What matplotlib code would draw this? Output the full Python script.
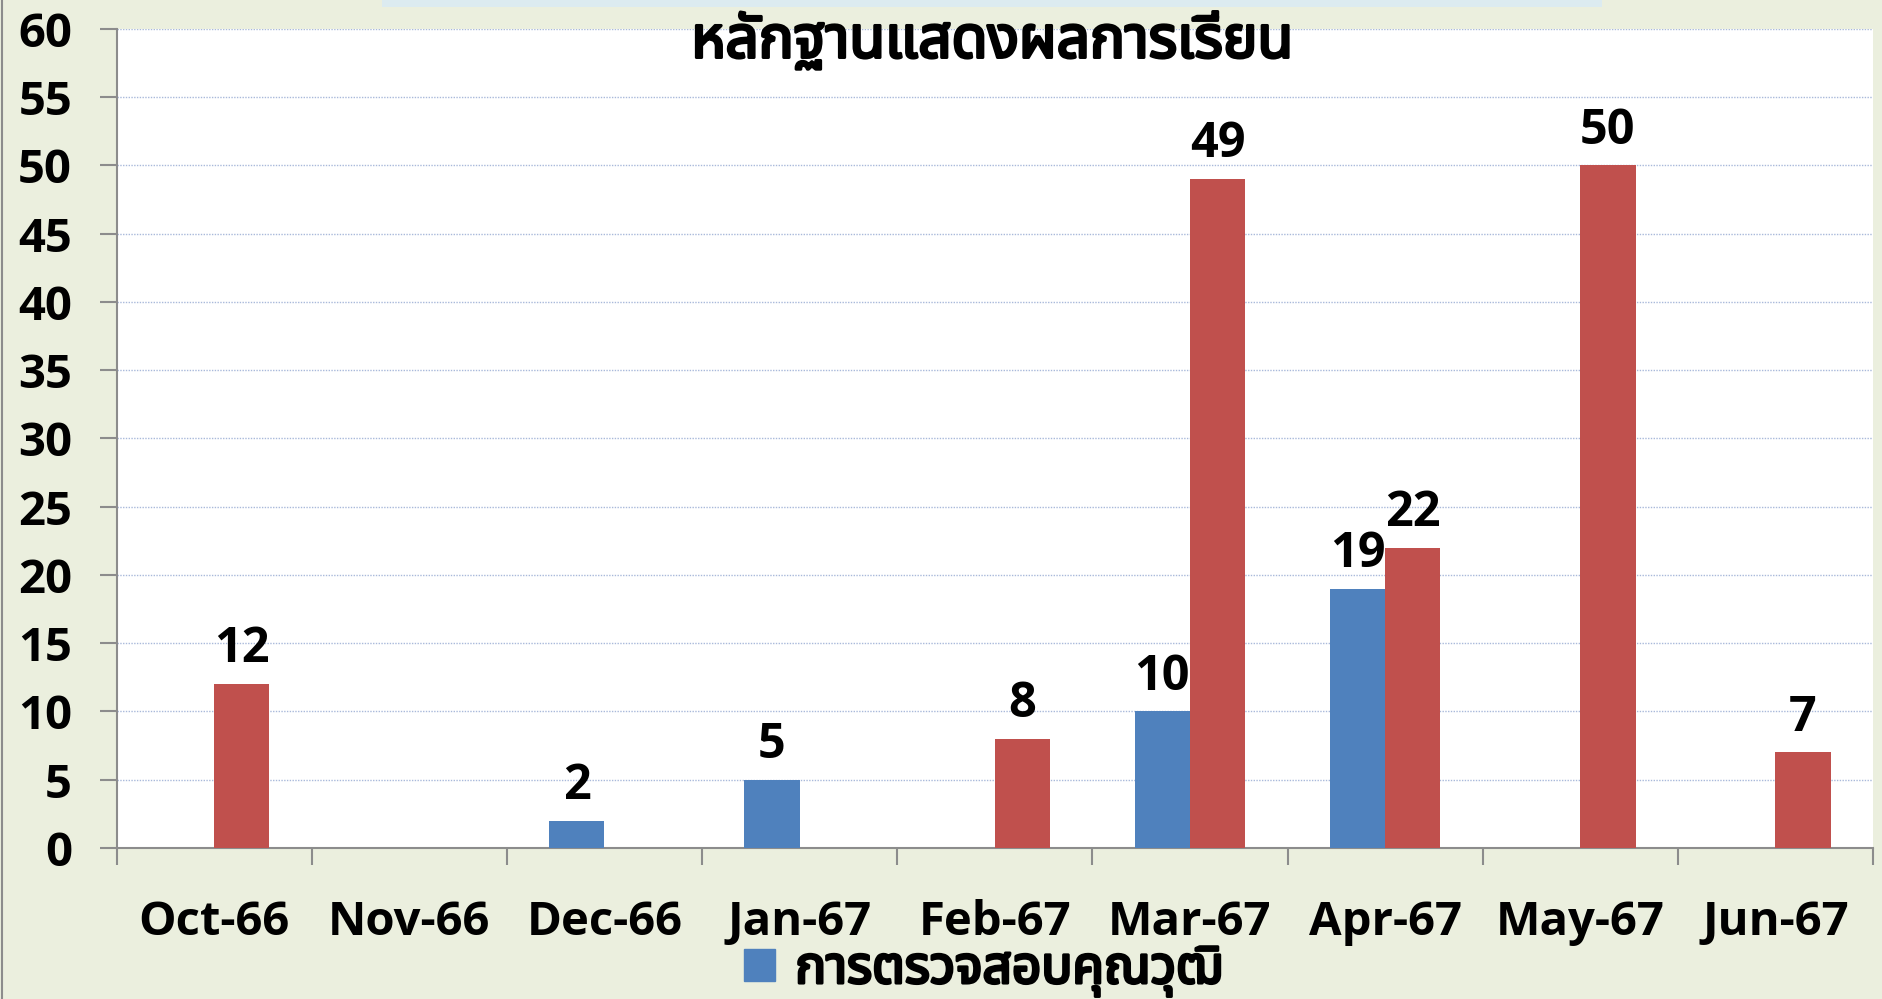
import numpy as np
import matplotlib
matplotlib.use('Agg')
import matplotlib.pyplot as plt
import matplotlib.patheffects as pe
from matplotlib import font_manager as fm
from matplotlib.ft2font import FT2Font
from matplotlib.patches import Patch, Rectangle
from matplotlib.lines import Line2D

# ข้อมูล
months = ['Oct-66', 'Nov-66', 'Dec-66', 'Jan-67', 'Feb-67', 'Mar-67', 'Apr-67', 'May-67', 'Jun-67']
qual_check = [None, None, 2, 5, None, 10, 19, None, None]
evidence = [12, None, None, None, 8, 49, 22, 50, 7]
title = 'หลักฐานแสดงผลการเรียน'
legend_label = 'การตรวจสอบคุณวุฒิ'


# หาฟอนต์ที่มีอักษรไทย
def find_thai_font():
    names = []
    for f in fm.fontManager.ttflist:
        try:
            if 0x0E01 in FT2Font(f.fname).get_charmap():
                names.append(f.name)
        except Exception:
            pass
    for pref in ['Noto Sans Thai', 'Noto Sans Thai UI', 'Loma', 'Garuda', 'Tlwg Typo']:
        if pref in names:
            return pref
    return names[0] if names else 'DejaVu Sans'


thai_font = find_thai_font()
fam = ['Open Sans', thai_font, 'DejaVu Sans']
plt.rcParams['font.family'] = fam
plt.rcParams['font.weight'] = 'bold'

blue = '#4F81BD'
red = '#C0504D'
bg = '#EBEFDE'
fs = 34
bold_fx = [pe.withStroke(linewidth=2.2, foreground='black')]

fig = plt.figure(figsize=(18.83, 9.99), dpi=100, facecolor=bg)
ax = fig.add_axes([0.0619, 0.1512, 0.9328, 0.8198])
ax.set_facecolor('white')

x = np.arange(len(months))
w = 0.283
b_vals = np.array([np.nan if v is None else v for v in qual_check], dtype=float)
r_vals = np.array([np.nan if v is None else v for v in evidence], dtype=float)
ax.bar(x - w / 2, np.nan_to_num(b_vals), w, color=blue, zorder=3)
ax.bar(x + w / 2, np.nan_to_num(r_vals), w, color=red, zorder=3)

for xs, vals in [(x - w / 2, b_vals), (x + w / 2, r_vals)]:
    for xi, v in zip(xs, vals):
        if not np.isnan(v):
            ax.annotate(f'{int(v)}', (xi, v), xytext=(0, 7), textcoords='offset points',
                        ha='center', va='bottom', fontsize=fs + 1, fontweight='bold')

ax.set_xlim(-0.5, len(months) - 0.5)
ax.set_ylim(0, 60)
ax.set_yticks(np.arange(0, 61, 5))
ax.set_xticks(x)
ax.set_xticklabels(months)
ax.set_xticks(np.arange(-0.5, len(months)), minor=True)
ax.tick_params(axis='x', which='major', length=0, pad=37, labelsize=fs)
ax.tick_params(axis='x', which='minor', length=12, width=1.5, color='#8C8C8C')
ax.tick_params(axis='y', length=12, width=1.5, color='#8C8C8C', pad=20, labelsize=fs)

ax.grid(axis='y', color='#A9B9DA', linestyle=(0, (1, 1)), linewidth=1, zorder=0)
for s in ['top', 'right']:
    ax.spines[s].set_visible(False)
for s in ['left', 'bottom']:
    ax.spines[s].set_color('#8C8C8C')
    ax.spines[s].set_linewidth(1.5)

fig.text(0.527, 0.958, title, ha='center', va='center', fontsize=42, fontweight='bold',
         path_effects=bold_fx)

leg = fig.legend(handles=[Patch(color=blue)], labels=[legend_label], loc='center',
                 bbox_to_anchor=(0.522, 0.028), frameon=False, fontsize=37,
                 handlelength=0.6, handleheight=0.6, handletextpad=0.4)
for t in leg.get_texts():
    t.set_path_effects(bold_fx)

# แถบสีฟ้าด้านบนและเส้นขอบซ้าย
fig.patches.append(Rectangle((0.203, 0.993), 0.648, 0.01, transform=fig.transFigure,
                             facecolor='#DCEBF0', edgecolor='none'))
fig.lines.append(Line2D([0.0008, 0.0008], [0, 1], transform=fig.transFigure,
                        color='#8C8C8C', linewidth=1.5))

fig.savefig('out.png', dpi=100, facecolor=bg)
